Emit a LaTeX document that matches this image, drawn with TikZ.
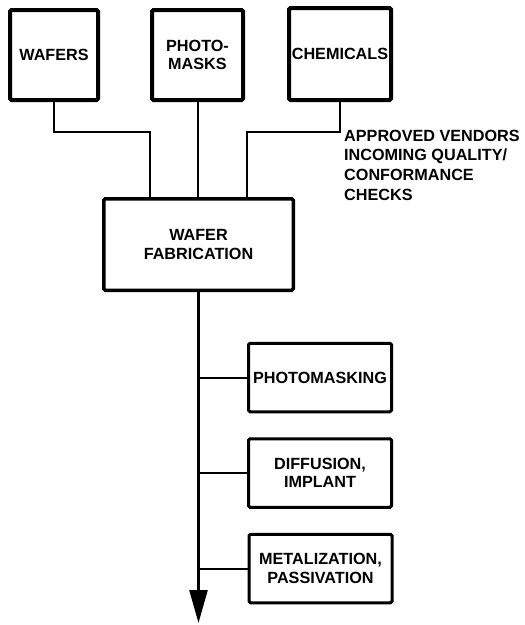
\documentclass[tikz,border=0pt]{standalone}
\usepackage{fontspec}
\setmainfont{Liberation Sans}
\usetikzlibrary{arrows.meta}
\begin{document}
\begin{tikzpicture}[x=1pt,y=-1pt,
  lbl/.style={font=\bfseries\fontsize{16.2}{18.5}\selectfont, align=center},
  srcbox/.style={draw, line width=4pt, rounded corners=1.5pt, lbl, inner sep=0pt},
  fabbox/.style={draw, line width=3.5pt, rounded corners=1.5pt, lbl, inner sep=0pt},
  stepbox/.style={draw, line width=3pt, rounded corners=1.5pt, lbl, inner sep=0pt,
    minimum width=143pt, minimum height=68.5pt},
  wire/.style={line width=2pt},
  mainwire/.style={line width=2.6pt}]
\useasboundingbox (0,0) rectangle (525,625);

% supply boxes
\node[srcbox, minimum width=88pt, minimum height=90pt] (wafers) at (54,55) {WAFERS};
\node[srcbox, minimum width=91pt, minimum height=90pt] (masks) at (197.5,55) {PHOTO-\\MASKS};
\node[srcbox, minimum width=102pt, minimum height=92pt] (chem) at (340,54) {CHEMICALS};

% fabrication box
\node[fabbox, minimum width=189.5pt, minimum height=91.5pt] (fab) at (198.5,244.5) {WAFER\\FABRICATION};

% process steps
\node[stepbox] (pm) at (320,377.5) {PHOTOMASKING};
\node[stepbox] (diff) at (320,473) {DIFFUSION,\\IMPLANT};
\node[stepbox] (metal) at (320.5,568.5) {METALIZATION,\\PASSIVATION};

% side note
\node[lbl, align=left, anchor=north west, inner sep=0pt,
  font=\bfseries\fontsize{16.2}{19.7}\selectfont] (note) at (344,129.5)
  {APPROVED VENDORS\\INCOMING QUALITY/\\CONFORMANCE\\CHECKS};

% feed lines into fabrication
\coordinate (jw) at (150,132);
\coordinate (jc) at (247,132);
\draw[wire] (wafers.south) |- (jw) -- (jw |- fab.north);
\draw[wire] (masks.south) -- (masks.south |- fab.north);
\draw[wire] (chem.south) |- (jc) -- (jc |- fab.north);

% main process flow
\coordinate (tip) at (198.5,623);
\draw[mainwire, -{Triangle[length=33pt,width=18pt]}] (fab.south) -- (tip);
\draw[wire] (pm.west) -- (pm.west -| tip);
\draw[wire] (diff.west) -- (diff.west -| tip);
\draw[wire] (metal.west) -- (metal.west -| tip);
\end{tikzpicture}
\end{document}
